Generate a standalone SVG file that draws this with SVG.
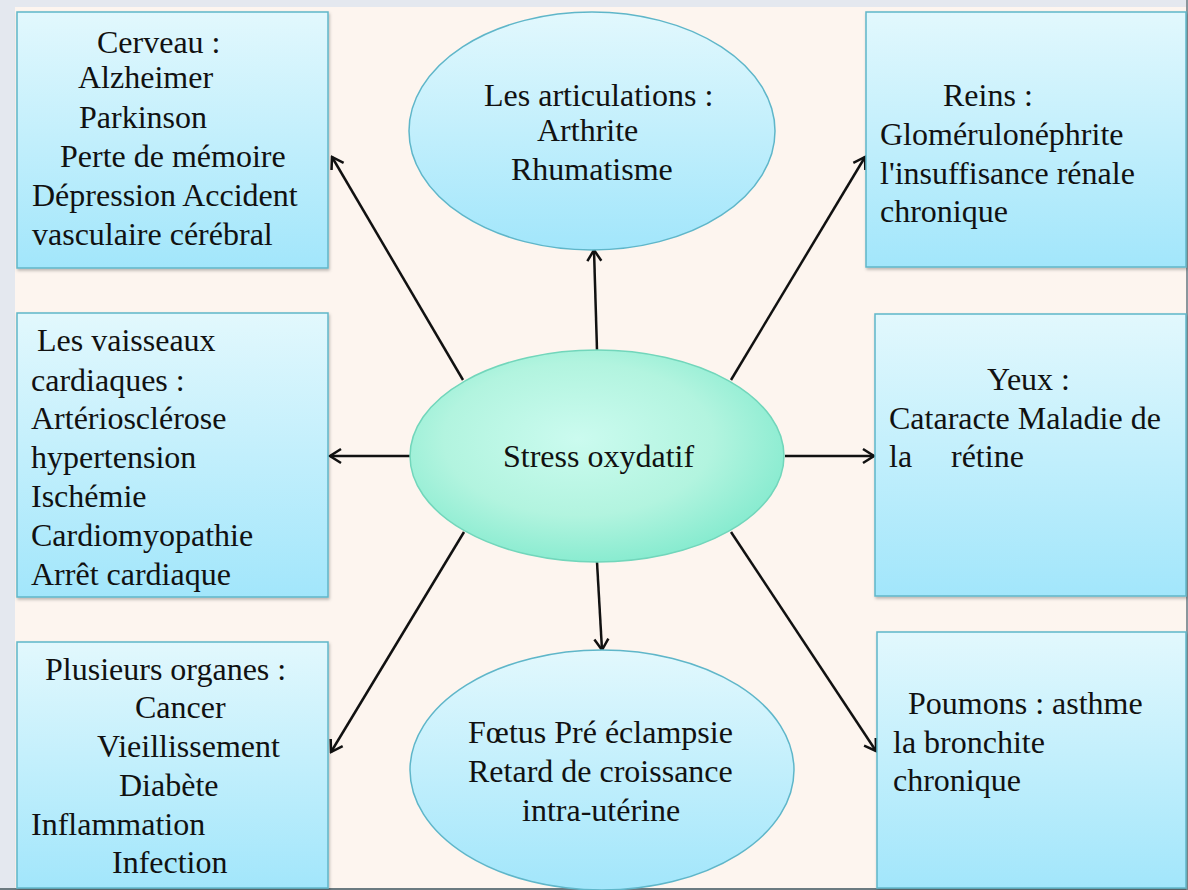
<svg xmlns="http://www.w3.org/2000/svg" width="1188" height="890" viewBox="0 0 1188 890">
<style>
.box{fill:url(#gBlue);stroke:#5fb6c9;stroke-width:1.5;filter:url(#sh)}
.ell{fill:url(#gBlue);stroke:#5fb6c9;stroke-width:1.5}
.ctr{fill:url(#gGreen);stroke:#72d6bb;stroke-width:1.5}
.t{font-family:"Liberation Serif","Times New Roman",serif;font-size:32px;fill:#111}
.c{stroke:#111;stroke-width:2.5;fill:none;marker-end:url(#arr)}
</style>
<defs>
<linearGradient id="gBlue" x1="0" y1="0" x2="0" y2="1">
<stop offset="0" stop-color="#e2f8fd"/>
<stop offset="1" stop-color="#a2e6fb"/>
</linearGradient>
<radialGradient id="gGreen" cx="0.45" cy="0.42" r="0.6">
<stop offset="0" stop-color="#cbfbef"/>
<stop offset="0.6" stop-color="#b2f4df"/>
<stop offset="1" stop-color="#86ebcf"/>
</radialGradient>
<filter id="sh" x="-5%" y="-5%" width="110%" height="110%">
<feDropShadow dx="1" dy="2" stdDeviation="1.5" flood-color="#000" flood-opacity="0.25"/>
</filter>
<marker id="arr" markerUnits="userSpaceOnUse" markerWidth="20" markerHeight="20" viewBox="0 0 20 20" refX="18" refY="10" orient="auto">
<path d="M7,3 L18,10 L7,17" fill="none" stroke="#111" stroke-width="2.5" stroke-linejoin="miter"/>
</marker>
</defs>
<rect x="0" y="0" width="1188" height="890" fill="#e4e8ef"/>
<rect x="15" y="7" width="1171" height="881" fill="#fdf5ef"/>
<rect x="0" y="888" width="1188" height="2" fill="#6b7a80"/>
<rect x="1186" y="0" width="2" height="890" fill="#8a969c"/>

<g id="connectors">
<line class="c" x1="463" y1="380" x2="332" y2="157"/>
<line class="c" x1="597" y1="350" x2="594" y2="250"/>
<line class="c" x1="731" y1="380" x2="865" y2="157"/>
<line class="c" x1="410" y1="456" x2="330" y2="456"/>
<line class="c" x1="785" y1="456" x2="874" y2="456"/>
<line class="c" x1="464" y1="532" x2="331" y2="752"/>
<line class="c" x1="597" y1="562" x2="602" y2="650"/>
<line class="c" x1="731" y1="532" x2="876" y2="751"/>
</g>

<g id="cerveau">
<rect class="box" x="17" y="12" width="311" height="256"/>
<text class="t" x="97" y="53">Cerveau :</text>
<text class="t" x="78" y="88">Alzheimer</text>
<text class="t" x="79" y="128">Parkinson</text>
<text class="t" x="60" y="167">Perte de mémoire</text>
<text class="t" x="32" y="206">Dépression Accident</text>
<text class="t" x="32" y="245">vasculaire cérébral</text>
</g>

<g id="articulations">
<ellipse class="ell" cx="592" cy="131" rx="183" ry="119"/>
<text class="t" x="484" y="106">Les articulations :</text>
<text class="t" x="537" y="141">Arthrite</text>
<text class="t" x="511" y="180">Rhumatisme</text>
</g>

<g id="reins">
<rect class="box" x="866" y="12" width="320" height="255"/>
<text class="t" x="943" y="106">Reins :</text>
<text class="t" x="880" y="145">Glomérulonéphrite</text>
<text class="t" x="880" y="184">l'insuffisance rénale</text>
<text class="t" x="880" y="222">chronique</text>
</g>

<g id="vaisseaux">
<rect class="box" x="17" y="313" width="311" height="284"/>
<text class="t" x="37" y="351">Les vaisseaux</text>
<text class="t" x="31" y="391">cardiaques :</text>
<text class="t" x="31" y="429">Artériosclérose</text>
<text class="t" x="31" y="468">hypertension</text>
<text class="t" x="31" y="507">Ischémie</text>
<text class="t" x="31" y="546">Cardiomyopathie</text>
<text class="t" x="31" y="585">Arrêt cardiaque</text>
</g>

<g id="stress">
<ellipse class="ctr" cx="597" cy="456" rx="187" ry="106"/>
<text class="t" x="503" y="467">Stress oxydatif</text>
</g>

<g id="yeux">
<rect class="box" x="875" y="314" width="311" height="282"/>
<text class="t" x="987" y="390">Yeux :</text>
<text class="t" x="889" y="429">Cataracte Maladie de</text>
<text class="t" x="889" y="467">la</text>
<text class="t" x="951" y="467">rétine</text>
</g>

<g id="plusieurs">
<rect class="box" x="17" y="642" width="311" height="246"/>
<text class="t" x="45" y="680">Plusieurs organes :</text>
<text class="t" x="135" y="718">Cancer</text>
<text class="t" x="97" y="757">Vieillissement</text>
<text class="t" x="119" y="796">Diabète</text>
<text class="t" x="31" y="835">Inflammation</text>
<text class="t" x="112" y="873">Infection</text>
</g>

<g id="foetus">
<ellipse class="ell" cx="602" cy="770" rx="192" ry="120"/>
<text class="t" x="468" y="743">Fœtus Pré éclampsie</text>
<text class="t" x="468" y="782">Retard de croissance</text>
<text class="t" x="522" y="821">intra-utérine</text>
</g>

<g id="poumons">
<rect class="box" x="877" y="632" width="309" height="256"/>
<text class="t" x="908" y="714">Poumons : asthme</text>
<text class="t" x="893" y="753">la bronchite</text>
<text class="t" x="893" y="791">chronique</text>
</g>
</svg>
